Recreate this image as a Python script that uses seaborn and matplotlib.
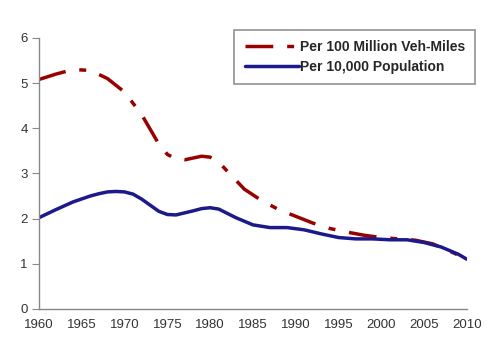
import matplotlib
matplotlib.use("Agg")
import matplotlib.pyplot as plt
import seaborn as sns
import pandas as pd

# fatality rates
years_vm = [1960, 1962, 1964, 1966, 1968, 1970, 1972, 1974, 1975, 1976, 1977,
            1978, 1979, 1980, 1981, 1982, 1984, 1986, 1988, 1990, 1992, 1994,
            1996, 1998, 2000, 2002, 2004, 2006, 2008, 2010]
per_vm = [5.08, 5.2, 5.3, 5.28, 5.1, 4.8, 4.3, 3.65, 3.42, 3.32, 3.3,
          3.34, 3.38, 3.36, 3.25, 3.05, 2.65, 2.4, 2.2, 2.05, 1.9, 1.78,
          1.7, 1.63, 1.58, 1.55, 1.52, 1.44, 1.28, 1.1]

years_pop = [1960, 1962, 1964, 1966, 1967, 1968, 1969, 1970, 1971, 1972, 1974,
             1975, 1976, 1978, 1979, 1980, 1981, 1983, 1985, 1987, 1989, 1991,
             1993, 1995, 1997, 1999, 2001, 2003, 2005, 2007, 2009, 2010]
per_pop = [2.02, 2.2, 2.37, 2.5, 2.55, 2.59, 2.6, 2.59, 2.54, 2.43, 2.16,
           2.09, 2.08, 2.17, 2.22, 2.24, 2.21, 2.02, 1.86, 1.8, 1.8, 1.75,
           1.66, 1.58, 1.55, 1.55, 1.53, 1.53, 1.47, 1.37, 1.21, 1.1]

df = pd.concat([
    pd.DataFrame({"year": years_vm, "rate": per_vm, "series": "Per 100 Million Veh-Miles"}),
    pd.DataFrame({"year": years_pop, "rate": per_pop, "series": "Per 10,000 Population"}),
])

sns.set_style("white")
plt.rcParams["font.family"] = ["Liberation Sans", "DejaVu Sans"]

fig = plt.figure(figsize=(4.94, 3.51), dpi=100)
ax = fig.add_axes([0.079, 0.12, 0.866, 0.772])

sns.lineplot(data=df, x="year", y="rate", hue="series", style="series",
             palette=["#990000", "#1c1a8a"],
             dashes=[(8, 4, 2, 4), ""], linewidth=2.5, ax=ax)

ax.set_xlim(1960, 2010)
ax.set_ylim(0, 6)
ax.set_xticks(range(1960, 2011, 5))
ax.set_yticks(range(0, 7))
ax.set_xlabel("")
ax.set_ylabel("")

for s in ["top", "right"]:
    ax.spines[s].set_visible(False)
for s in ["left", "bottom"]:
    ax.spines[s].set_color("#888888")
    ax.spines[s].set_linewidth(1)
ax.tick_params(axis="x", direction="inout", length=7, color="#888888", labelsize=9.5, pad=4)
ax.tick_params(axis="y", direction="out", length=5, color="#888888", labelsize=9.5, left=True, pad=3)
ax.tick_params(labelcolor="#333333")

leg = ax.legend(loc="upper right", bbox_to_anchor=(1.02, 1.03), frameon=True,
                fancybox=False, handlelength=3.9, handletextpad=0.05,
                borderpad=0.75, labelspacing=0.4, borderaxespad=0,
                prop={"weight": "bold", "size": 10})
leg.get_frame().set_edgecolor("#777777")
leg.get_frame().set_linewidth(1.2)

fig.savefig("out.png", dpi=100)
